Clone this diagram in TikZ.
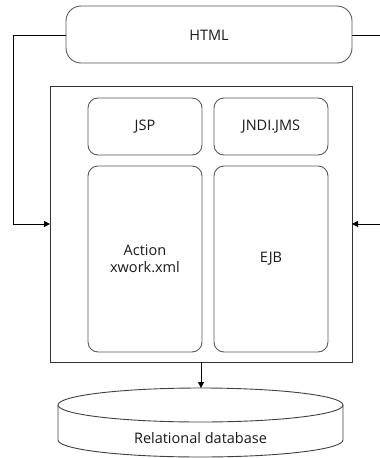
\documentclass[tikz,border=0pt]{standalone}
\usepackage{fontspec}
\setmainfont{Open Sans}
\usetikzlibrary{arrows.meta}
\begin{document}
\begin{tikzpicture}[x=1pt,y=-1pt,
  roundbox/.style={draw=black!65, line width=0.9pt, rounded corners=#1},
  roundbox/.default=10pt,
  label/.style={font=\fontsize{14.5}{17}\selectfont, text=black!90},
  link/.style={draw=black, line width=0.8pt},
  tip/.style={-{Triangle[length=6pt,width=6pt]}}
]
\useasboundingbox (0,0) rectangle (380,458);

% top layer
\draw[roundbox=15pt] (66,6) rectangle (352,63);
\node[label] (html) at (209,35) {HTML};
\coordinate (htmlW) at (66,35);
\coordinate (htmlE) at (352,35);

% application server frame
\draw[draw=black!80, line width=0.9pt] (50,86) rectangle (352,362);
\coordinate (frameW) at (50,224);
\coordinate (frameE) at (352,224);
\coordinate (frameS) at (201,362);

% inner components
\draw[roundbox] (88,98) rectangle (202,155);
\node[label] (jsp) at (145,127) {JSP};
\draw[roundbox] (214,98) rectangle (328,155);
\node[label] (jndi) at (271,127) {JNDI.JMS};
\draw[roundbox] (88,166) rectangle (202,352);
\node[label, align=center] (action) at (145,259) {Action\\xwork.xml};
\draw[roundbox] (214,166) rectangle (328,352);
\node[label] (ejb) at (271,259) {EJB};

% database cylinder
\draw[draw=black!75, line width=0.9pt]
  (58,405) -- (58,440) arc[start angle=180,end angle=0,x radius=142.5,y radius=17]
  -- (343,405);
\draw[draw=black!75, line width=0.9pt] (200.5,405) ellipse[x radius=142.5,y radius=17];
\coordinate (dbtop) at (201,388);
\node[label] (db) at (200.5,438) {Relational database};

% connectors
\draw[link,tip] (htmlW) -- (13,35) |- (frameW);
\draw[link] (htmlE) -- (380,35);
\draw[link,tip] (380,224) coordinate (rin) -- (frameE);
\draw[link,tip] (frameS) -- (dbtop);
\end{tikzpicture}
\end{document}
